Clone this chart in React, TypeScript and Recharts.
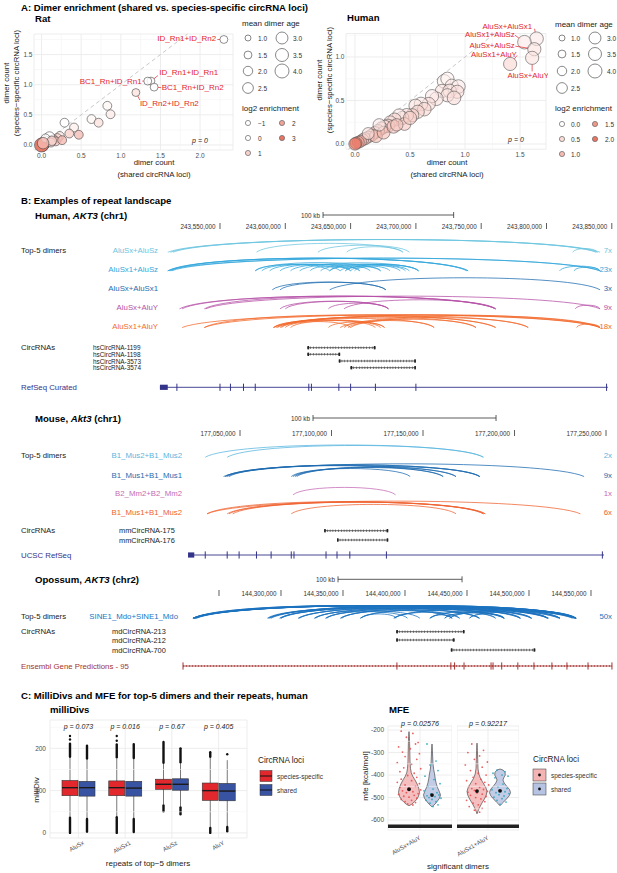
import React from 'react';
import { ScatterChart, Scatter, XAxis, YAxis, CartesianGrid, ReferenceLine, ReferenceArea, ComposedChart, Bar } from 'recharts';

const FONT = '"Liberation Sans", Arial, Helvetica, sans-serif';

/* ================= Panel A data ================= */
const ratNames = ['ID_Rn1+ID_Rn2', 'ID_Rn1+ID_Rn1', 'BC1_Rn+ID_Rn1', 'BC1_Rn+ID_Rn2', 'ID_Rn2+ID_Rn2'];
const ratShared = [2.30, 1.38, 1.34, 1.42, 1.19,
  0.83, 0.87, 0.63, 0.72, 0.29, 0.41, 0.35, 0.47, 0.23, 0.20,
  0.15, 0.10, 0.18, 0.08, 0.06, 0.04, 0.03, 0.02, 0.01, 0.00,
  0.05, 0.12, 0.26, 0.13, 0.02];
const ratSpecific = [1.75, 1.06, 1.06, 0.96, 0.87,
  0.65, 0.51, 0.43, 0.37, 0.37, 0.29, 0.19, 0.17, 0.15, 0.11,
  0.09, 0.13, 0.06, 0.06, 0.03, 0.07, 0.02, 0.01, 0.00, 0.00,
  0.11, 0.04, 0.08, 0.07, 0.03];
const ratAge = [1.5, 1.5, 1.5, 1.5, 1.5,
  1.8, 1.8, 1.8, 1.8, 1.8, 1.8, 1.8, 1.8, 1.8, 2.0,
  2.0, 2.5, 1.8, 2.2, 2.0, 2.2, 2.5, 3.0, 3.5, 4.0,
  1.8, 1.8, 1.8, 2.0, 2.8];
const ratLog2 = [0, 0, 0, 0, 0.6,
  0.2, 0.4, 0.2, 0.6, 0, 0.3, 1, 1.4, 0.5, 1,
  1.5, -0.3, 1.2, 0, 0.4, 0.8, 1, 2, 2.5, 3,
  -0.8, 0.8, 1.5, 1, 1.5];

const humanNames = ['AluSx+AluSx1', 'AluSx1+AluSz', 'AluSx+AluSz', 'AluSx1+AluY', 'AluSx+AluY'];
const humanShared = [1.65, 1.54, 1.63, 1.41, 1.61,
  0.81, 0.84, 0.88, 0.94, 0.79, 0.86, 0.93, 0.84, 0.90, 0.74,
  0.70, 0.67, 0.60, 0.55, 0.63, 0.57, 0.52, 0.47, 0.43, 0.40,
  0.36, 0.32, 0.30, 0.27, 0.24, 0.21, 0.18, 0.15, 0.12, 0.09,
  0.07, 0.05, 0.03, 0.01, 0.00, 0.19, 0.26, 0.35, 0.45, 0.50,
  0.38, 0.12, 0.22];
const humanSpecific = [1.21, 1.17, 1.09, 0.92, 0.99,
  0.72, 0.75, 0.67, 0.66, 0.61, 0.61, 0.60, 0.56, 0.53, 0.52,
  0.55, 0.46, 0.46, 0.44, 0.40, 0.37, 0.33, 0.33, 0.30, 0.33,
  0.28, 0.25, 0.21, 0.20, 0.18, 0.15, 0.13, 0.10, 0.08, 0.06,
  0.05, 0.03, 0.02, 0.01, 0.00, 0.09, 0.13, 0.20, 0.23, 0.30,
  0.22, 0.12, 0.22];
const humanAge = [3.8, 3.8, 3.6, 3.6, 3.6,
  3.8, 3.6, 3.6, 3.8, 3.6, 3.8, 3.6, 3.6, 3.8, 3.8,
  3.6, 3.6, 3.8, 3.6, 3.8, 3.6, 3.6, 3.8, 3.6, 3.4,
  3.6, 3.4, 3.6, 3.4, 3.4, 3.4, 3.2, 3.2, 3.0, 3.2,
  3.0, 3.0, 3.0, 3.0, 3.2, 3.4, 3.4, 3.6, 3.4, 3.6,
  3.2, 3.0, 3.2];
const humanLog2 = [0.3, 0.3, 0.4, 0.6, 0.4,
  0.2, 0.2, 0.3, 0.3, 0.4, 0.4, 0.5, 0.4, 0.5, 0.4,
  0.3, 0.5, 0.3, 0.4, 0.6, 0.6, 0.7, 0.5, 0.6, 0.3,
  0.6, 0.5, 0.7, 0.6, 0.7, 0.8, 0.9, 0.8, 1.0, 0.9,
  1.1, 1.2, 1.4, 1.8, 2.1, 1.0, 1.0, 0.9, 0.8, 0.7,
  0.8, 0.4, 0.3];

const ratAgeLegend = [1.0, 1.5, 2.0, 2.5, 3.0, 3.5, 4.0];
const ratLog2Legend = [-1, 0, 1, 2, 3];
const humanLog2Legend = [0.0, 0.5, 1.0, 1.5, 2.0];

/* ================= Panel B data (genomic positions in kb) ================= */
const humanTicks = [243550, 243600, 243650, 243700, 243750, 243800, 243850];
const humanTickLabels = ['243,550,000', '243,600,000', '243,650,000', '243,700,000', '243,750,000', '243,800,000', '243,850,000'];
const humanDimers = ['AluSx+AluSz', 'AluSx1+AluSz', 'AluSx+AluSx1', 'AluSx+AluY', 'AluSx1+AluY'];
const humanCounts = ['7x', '23x', '3x', '9x', '18x'];
const humanArcs = [
  [[243510, 243839], [243512, 243841], [243514, 243838], [243578, 243690], [243625, 243695], [243647, 243690], [243820, 243839]],
  [[243510, 243740], [243511, 243740], [243512, 243739], [243510, 243841], [243513, 243841],
    [243577, 243634], [243582, 243642], [243588, 243650], [243596, 243657], [243577, 243673], [243611, 243702],
    [243627, 243688], [243634, 243695], [243642, 243702], [243646, 243680], [243650, 243673], [243634, 243657],
    [243619, 243650], [243604, 243665], [243646, 243702], [243653, 243692], [243821, 243841], [243810, 243841]],
  [[243590, 243677], [243596, 243677], [243634, 243841]],
  [[243519, 243761], [243521, 243761], [243538, 243761], [243596, 243679], [243600, 243679], [243633, 243679],
    [243645, 243761], [243539, 243841], [243822, 243841]],
  [[243521, 243841], [243538, 243761], [243591, 243841], [243593, 243786], [243594, 243746], [243596, 243714],
    [243597, 243676], [243591, 243669], [243600, 243650], [243633, 243676], [243645, 243714], [243648, 243786],
    [243650, 243746], [243642, 243841], [243823, 243841], [243538, 243841], [243591, 243761], [243604, 243673]],
];
const humanCircNames = ['hsCircRNA-1199', 'hsCircRNA-1198', 'hsCircRNA-3573', 'hsCircRNA-3574'];
const humanCircSpans = [[243617, 243669], [243617, 243642], [243641, 243700], [243650, 243700]];
const humanGene = [243504, 243847];
const humanFirstExon = [243504, 243510];
const humanExons = [243517, 243550, 243558, 243568, 243577, 243618, 243620, 243641, 243650, 243669, 243700, 243846];

const mouseTicks = [177050, 177100, 177150, 177200, 177250];
const mouseTickLabels = ['177,050,000', '177,100,000', '177,150,000', '177,200,000', '177,250,000'];
const mouseDimers = ['B1_Mus2+B1_Mus2', 'B1_Mus1+B1_Mus1', 'B2_Mm2+B2_Mm2', 'B1_Mus1+B1_Mus2'];
const mouseCounts = ['2x', '9x', '1x', '6x'];
const mouseArcs = [
  [[177031, 177183], [177043, 177183]],
  [[177041, 177238], [177042, 177168], [177042, 177161], [177043, 177181], [177044, 177181],
    [177078, 177143], [177079, 177161], [177080, 177181], [177081, 177168]],
  [[177079, 177135]],
  [[177032, 177184], [177043, 177183], [177046, 177184], [177078, 177168], [177032, 177236], [177044, 177183]],
];
const mouseCircNames = ['mmCircRNA-175', 'mmCircRNA-176'];
const mouseCircSpans = [[177096, 177131], [177103, 177131]];
const mouseGene = [177021.6, 177248.9];
const mouseFirstExon = [177021.6, 177025];
const mouseExons = [177031, 177043, 177049.5, 177059, 177067, 177078, 177079.5, 177097, 177103, 177110, 177130, 177248];

const opoTicks = [144250, 144300, 144350, 144400, 144450, 144500, 144550];
const opoTickLabels = ['', '144,300,000', '144,350,000', '144,400,000', '144,450,000', '144,500,000', '144,550,000'];
const opoDimers = ['SINE1_Mdo+SINE1_Mdo'];
const opoCounts = ['50x'];
const opoArcs = [[
  [144229, 144538], [144230, 144538], [144231, 144537], [144229, 144536], [144232, 144538], [144230, 144535],
  [144229, 144525], [144231, 144524], [144230, 144515], [144229, 144516], [144230, 144502], [144231, 144493],
  [144229, 144480], [144230, 144460],
  [144290, 144538], [144290, 144515], [144291, 144480], [144289, 144444], [144292, 144537],
  [144299, 144525], [144299, 144493], [144300, 144438],
  [144314, 144538], [144314, 144502], [144315, 144460],
  [144327, 144515], [144327, 144473], [144328, 144412],
  [144336, 144538], [144336, 144480], [144337, 144402],
  [144348, 144525], [144348, 144493], [144349, 144438],
  [144364, 144502], [144364, 144460], [144365, 144393],
  [144391, 144538], [144391, 144515], [144392, 144444],
  [144420, 144525], [144420, 144480], [144421, 144438],
  [144432, 144502], [144432, 144473],
  [144436, 144538], [144436, 144493],
  [144452, 144515], [144452, 144480], [144300, 144537],
]];
const opoCircNames = ['mdCircRNA-213', 'mdCircRNA-212', 'mdCircRNA-700'];
const opoCircSpans = [[144393, 144448], [144393, 144440], [144437, 144505]];
const opoGene = [144221, 144567];
const opoExons = [144221, 144393.5, 144437, 144440, 144447.6, 144469.4, 144471, 144478, 144491, 144504, 144518.5, 144530.6, 144547.6, 144566.9];

/* ================= Panel C data ================= */
const boxRepeats = ['AluSx', 'AluSx1', 'AluSz', 'AluY'];
const specQ1 = [88, 88, 103, 77];
const specMed = [107, 107, 115, 100];
const specQ3 = [124, 123, 127, 118];
const specW1 = [38, 39, 67, 14];
const specW2 = [177, 176, 163, 178];
const specLowOut = [[0, 36], [0, 37], [51, 65], [0, 12]];
const specHighOut = [[180, 211], [179, 209], [166, 215], [180, 191]];
const specSparseOut = [[221, 229], [218, 229], [], []];
const sharedQ1 = [87, 87, 101, 76];
const sharedMed = [107, 106, 115, 99];
const sharedQ3 = [122, 122, 128, 117];
const sharedW1 = [35, 35, 62, 16];
const sharedW2 = [174, 175, 165, 172];
const sharedLowOut = [[3, 33], [2, 33], [44, 60], [4, 14]];
const sharedHighOut = [[176, 206], [177, 210], [167, 200], []];
const sharedSparseOut = [[], [], [], [186]];
const boxPValues = ['p = 0.073', 'p = 0.016', 'p = 0.67', 'p = 0.405'];

const mfeDimers = ['AluSx+AluY', 'AluSx1+AluY'];
const mfePValues = ['p = 0.02576', 'p = 0.92217'];
const specViolin = [
  [[-207, 0], [-230, 0.04], [-260, 0.06], [-300, 0.08], [-340, 0.1], [-370, 0.14], [-390, 0.22], [-405, 0.35], [-420, 0.55], [-440, 0.78], [-460, 0.94], [-478, 1], [-495, 0.9], [-510, 0.7], [-522, 0.45], [-530, 0.25], [-536, 0]],
  [[-258, 0], [-290, 0.04], [-330, 0.07], [-370, 0.1], [-395, 0.18], [-415, 0.35], [-435, 0.62], [-455, 0.88], [-472, 1], [-490, 0.92], [-508, 0.72], [-525, 0.48], [-545, 0.25], [-560, 0.1], [-572, 0]],
];
const sharedViolin = [
  [[-262, 0], [-290, 0.05], [-320, 0.08], [-350, 0.12], [-375, 0.2], [-395, 0.3], [-415, 0.38], [-435, 0.48], [-455, 0.65], [-472, 0.85], [-488, 1], [-502, 0.9], [-515, 0.65], [-528, 0.38], [-536, 0.15], [-541, 0]],
  [[-373, 0], [-378, 0.3], [-388, 0.48], [-400, 0.5], [-410, 0.38], [-422, 0.28], [-435, 0.4], [-450, 0.65], [-465, 0.92], [-478, 1], [-492, 0.88], [-506, 0.62], [-520, 0.34], [-530, 0.12], [-536, 0]],
];
const specPoints = [
  [[-0.6, -205], [0.3, -215], [-0.2, -232], [0.7, -255], [0.5, -262], [-0.8, -275], [0.1, -283], [-0.5, -298], [0.8, -305], [-0.3, -318], [0.6, -330], [-0.9, -345], [0.2, -352], [-0.4, -368], [0.9, -372], [-0.7, -385], [0.4, -392], [-0.1, -402], [0.6, -410], [-0.6, -418], [0.2, -425], [-0.9, -432], [0.8, -438], [-0.3, -444], [0.5, -450], [-0.7, -455], [0.1, -460], [0.9, -466], [-0.5, -470], [0.3, -474], [-0.2, -478], [0.7, -482], [-0.8, -486], [0.4, -490], [-0.4, -494], [0.0, -498], [0.6, -503], [-0.6, -508], [0.2, -512], [-0.3, -518], [0.5, -522], [-0.1, -528], [0.3, -533]],
  [[-0.4, -262], [0.5, -290], [-0.7, -300], [0.2, -315], [-0.2, -330], [0.8, -342], [-0.9, -355], [0.4, -365], [-0.5, -380], [0.1, -392], [0.7, -400], [-0.3, -410], [0.3, -418], [-0.8, -425], [0.6, -432], [-0.1, -438], [0.9, -444], [-0.6, -450], [0.2, -455], [-0.4, -460], [0.5, -464], [-0.2, -468], [0.8, -472], [-0.7, -476], [0.0, -480], [0.4, -485], [-0.5, -490], [0.7, -495], [-0.1, -500], [0.3, -506], [-0.8, -512], [0.6, -518], [-0.3, -525], [0.1, -532], [-0.6, -540], [0.4, -548], [-0.2, -556], [0.2, -565]],
];
const sharedPoints = [
  [[-0.5, -262], [0.4, -338], [-0.2, -355], [0.6, -380], [-0.7, -405], [0.2, -420], [0.8, -438], [-0.4, -450], [0.1, -462], [-0.8, -470], [0.5, -478], [-0.1, -484], [0.7, -488], [-0.5, -492], [0.3, -496], [-0.3, -500], [0.9, -503], [0.0, -508], [-0.6, -512], [0.4, -518], [-0.2, -525], [0.6, -532], [0.1, -540]],
  [[-0.3, -378], [0.5, -385], [-0.7, -392], [0.2, -400], [0.8, -405], [-0.5, -412], [0.3, -440], [-0.2, -452], [0.7, -460], [-0.8, -465], [0.1, -470], [0.5, -474], [-0.4, -478], [0.9, -482], [-0.1, -487], [0.4, -493], [-0.6, -498], [0.2, -505], [-0.3, -512], [0.6, -520], [0.0, -530]],
];
const specMean = [-463, -471];
const sharedMean = [-489, -470];

/* ================= helpers ================= */
const RED = '#e3282d';
const BLUE = '#3953a3';
const LABEL_RED = '#e3262c';

const ageRadius = (a: number) => Math.sqrt((28 + (a - 1) * 42) / Math.PI);
const enrichColor = (v: number, max: number) => {
  const t = Math.max(0, Math.min(1, v / max));
  const c0 = [255, 255, 255];
  const c1 = [234, 116, 98];
  const c = c0.map((s, k) => Math.round(s + (c1[k] - s) * t));
  return `rgb(${c[0]},${c[1]},${c[2]})`;
};

const ratPoints = ratShared.map((x, i) => ({ x, y: ratSpecific[i], age: ratAge[i], log2: ratLog2[i], name: ratNames[i] || '', li: i }));
const humanPoints = humanShared.map((x, i) => ({ x, y: humanSpecific[i], age: humanAge[i], log2: humanLog2[i], name: humanNames[i] || '', li: i }));

// label placement (pixel offsets relative to the point)
const ratLabelLayout = [
  { dx: -7.7, dy: -1, a: 'end', lx: -6.5, ly: 0 },
  { dx: 8.4, dy: -8.4, a: 'start', lx: 7, ly: -5.5 },
  { dx: -6, dy: 0, a: 'end', lx: -5.5, ly: 0 },
  { dx: 7.6, dy: 0.6, a: 'start', lx: 7, ly: 0.5 },
  { dx: 4, dy: 10.8, a: 'start', lx: 4, ly: 7.5 },
];
const humanLabelLayout = [
  { dx: -4.5, dy: -12.7, a: 'end', lx: -2, ly: -10 },
  { dx: -9.7, dy: -7.2, a: 'end', lx: -9.5, ly: -7 },
  { dx: -19.6, dy: -3.2, a: 'end', lx: -19, ly: -3 },
  { dx: 6.7, dy: -9.1, a: 'end', lx: 7, ly: -8.5 },
  { dx: -4, dy: 18, a: 'middle', lx: 0, ly: 13.5 },
];

const pointShape = (maxLog2: number, stroke: string, fillOp: number) => (p: any) => {
  const d = p.payload;
  return <circle cx={p.cx} cy={p.cy} r={ageRadius(d.age)} fill={enrichColor(d.log2, maxLog2)} fillOpacity={fillOp} stroke={stroke} strokeWidth={0.7} strokeOpacity={0.85} />;
};
const labelShape = (layout: any[], fs: number) => (p: any) => {
  const d = p.payload;
  const L = layout[d.li];
  const r = ageRadius(d.age);
  const len = Math.hypot(L.lx, L.ly);
  const ex = p.cx + (L.lx / len) * r;
  const ey = p.cy + (L.ly / len) * r;
  return (
    <g>
      {len > r ? <line x1={p.cx + L.lx} y1={p.cy + L.ly} x2={ex} y2={ey} stroke={LABEL_RED} strokeWidth={0.7} /> : null}
      <text x={p.cx + L.dx} y={p.cy + L.dy} textAnchor={L.a} dominantBaseline="central" fontSize={fs} fill={LABEL_RED}>{d.name}</text>
    </g>
  );
};

function EnrichPlot(props: any) {
  const { left, width, margin, yWidth, xDomain, yDomain, xTicks, yTicks, xMinor, yMinor, points, layout, maxLog2, diag, stroke, fillOp, fs } = props;
  const labeled = points.filter((p: any) => p.name);
  const tickStyle = { fontSize: 6.5, fill: '#4d4d4d' };
  return (
    <div style={{ position: 'absolute', left, top: 0 }}>
      <ScatterChart width={width} height={190} margin={margin}>
        <CartesianGrid stroke="#ebebeb" strokeWidth={0.9} />
        {xMinor.map((v: number) => <ReferenceLine key={'xm' + v} x={v} stroke="#f4f4f4" strokeWidth={0.6} />)}
        {yMinor.map((v: number) => <ReferenceLine key={'ym' + v} y={v} stroke="#f4f4f4" strokeWidth={0.6} />)}
        <XAxis type="number" dataKey="x" domain={xDomain} ticks={xTicks} interval={0} axisLine={false} tickLine={false} tickSize={0} tickMargin={3} height={12} tick={tickStyle} tickFormatter={(v: number) => v.toFixed(1)} />
        <YAxis type="number" dataKey="y" domain={yDomain} ticks={yTicks} interval={0} axisLine={false} tickLine={false} tickSize={0} tickMargin={1.5} width={yWidth} tick={tickStyle} tickFormatter={(v: number) => v.toFixed(1)} />
        <ReferenceLine segment={[{ x: diag[0], y: diag[0] }, { x: diag[1], y: diag[1] }]} stroke="#c2c2c2" strokeWidth={0.9} strokeDasharray="4 3" ifOverflow="visible" />
        <Scatter data={points} isAnimationActive={false} shape={pointShape(maxLog2, stroke, fillOp)} />
        <Scatter data={labeled} isAnimationActive={false} shape={labelShape(layout, fs)} />
      </ScatterChart>
    </div>
  );
}

/* ---------- Panel B shapes ---------- */
const arcShape = (color: string) => (p: any) => {
  const { x, y, width, height } = p;
  const b = y + height;
  const h = Math.min(13, 13 * Math.sqrt(Math.max(width, 1) / 300));
  const k = 1.3 * h;
  return <path d={`M${x},${b} C${x + width * 0.1},${b - k} ${x + width * 0.9},${b - k} ${x + width},${b}`} fill="none" stroke={color} strokeWidth={0.9} strokeOpacity={0.85} />;
};
const circShape = (p: any) => {
  const { x, y, width, height } = p;
  const cy = y + height / 2;
  return (
    <g>
      <line x1={x} x2={x + width} y1={cy} y2={cy} stroke="#222" strokeWidth={0.7} />
      <line x1={x} x2={x + width} y1={cy} y2={cy} stroke="#444" strokeWidth={2.4} strokeDasharray="0.6 2.2" />
      <rect x={x} y={cy - 1.7} width={1.6} height={3.4} fill="#222" />
      <rect x={x + width - 1.6} y={cy - 1.7} width={1.6} height={3.4} fill="#222" />
    </g>
  );
};
const geneShape = (color: string, hatch: boolean) => (p: any) => {
  const { x, y, width, height } = p;
  const cy = y + height / 2;
  return (
    <g>
      <line x1={x} x2={x + width} y1={cy} y2={cy} stroke={color} strokeWidth={0.9} />
      {hatch ? <line x1={x} x2={x + width} y1={cy} y2={cy} stroke={color} strokeWidth={2.2} strokeDasharray="0.6 2.4" /> : null}
    </g>
  );
};
const exonShape = (color: string) => (p: any) => <line x1={p.cx} x2={p.cx} y1={p.cy - 3.6} y2={p.cy + 3.6} stroke={color} strokeWidth={1} />;
const tickShape = (p: any) => (
  <g>
    {p.payload.label ? <text x={p.cx - 4.5} y={p.cy} textAnchor="end" dominantBaseline="central" fontSize={6.3} fill="#333">{p.payload.label}</text> : null}
    <line x1={p.cx} x2={p.cx} y1={p.cy - 3} y2={p.cy + 3} stroke="#333" strokeWidth={0.8} />
  </g>
);
const scaleBarShape = (p: any) => {
  const { x, y, width, height } = p;
  const cy = y + height / 2;
  return (
    <g stroke="#333" strokeWidth={0.8}>
      <line x1={x} x2={x + width} y1={cy} y2={cy} />
      <line x1={x} x2={x} y1={cy - 3} y2={cy + 3} />
      <line x1={x + width} x2={x + width} y1={cy - 3} y2={cy + 3} />
    </g>
  );
};

function LocusChart(p: any) {
  const tickData = p.ticks.map((t: number, i: number) => ({ x: t, y: p.tickY, label: p.tickLabels[i] }));
  const exonData = p.exons.map((e: number) => ({ x: e, y: p.geneY }));
  return (
    <div style={{ position: 'absolute', left: 0, top: p.top }}>
      <ComposedChart width={617} height={p.height} margin={{ top: 0, right: 0, bottom: 0, left: 0 }}>
        <XAxis type="number" dataKey="x" domain={p.domain} hide allowDataOverflow />
        <YAxis type="number" dataKey="y" domain={[p.top, p.top + p.height]} reversed hide allowDataOverflow />
        <ReferenceArea x1={p.barStart} x2={p.barStart + 100} y1={p.barY - 1} y2={p.barY + 1} ifOverflow="visible" shape={scaleBarShape} />
        {p.arcs.map((row: number[][], r: number) =>
          row.map((a: number[], k: number) => (
            <ReferenceArea key={`a${r}-${k}`} x1={a[0]} x2={a[1]} y1={p.rowYs[r] - 1} y2={p.rowYs[r]} ifOverflow="visible" shape={arcShape(p.colors[r])} />
          ))
        )}
        {p.circSpans.map((s: number[], k: number) => (
          <ReferenceArea key={`c${k}`} x1={s[0]} x2={s[1]} y1={p.circYs[k] - 1.5} y2={p.circYs[k] + 1.5} ifOverflow="visible" shape={circShape} />
        ))}
        <ReferenceArea x1={p.gene[0]} x2={p.gene[1]} y1={p.geneY - 1.5} y2={p.geneY + 1.5} ifOverflow="visible" shape={geneShape(p.geneColor, p.hatch)} />
        {p.firstExon ? <ReferenceArea x1={p.firstExon[0]} x2={p.firstExon[1]} y1={p.geneY - 2.6} y2={p.geneY + 2.6} ifOverflow="visible" fill={p.geneColor} fillOpacity={1} stroke="none" /> : null}
        <Scatter data={exonData} isAnimationActive={false} shape={exonShape(p.geneColor)} />
        <Scatter data={tickData} isAnimationActive={false} shape={tickShape} />
      </ComposedChart>
    </div>
  );
}

/* ---------- Panel C: boxplot ---------- */
const buildBox = (i: number, q1: number[], med: number[], q3: number[], w1: number[], w2: number[], low: number[][], high: number[][], sparse: number[][]) => {
  const vals = [w1[i], w2[i], ...low[i], ...high[i], ...sparse[i]];
  return { q1: q1[i], med: med[i], q3: q3[i], w1: w1[i], w2: w2[i], low: low[i], high: high[i], sparse: sparse[i], range: [Math.min(...vals), Math.max(...vals)] };
};
const boxRows = boxRepeats.map((r, i) => {
  const sp = buildBox(i, specQ1, specMed, specQ3, specW1, specW2, specLowOut, specHighOut, specSparseOut);
  const sh = buildBox(i, sharedQ1, sharedMed, sharedQ3, sharedW1, sharedW2, sharedLowOut, sharedHighOut, sharedSparseOut);
  return { repeat: r, specRange: sp.range, sharedRange: sh.range, specStats: sp, sharedStats: sh };
});
const boxShape = (key: string, fill: string) => (p: any) => {
  const s = p.payload[key];
  const { x, y, width, height } = p;
  const lo = s.range[0];
  const hi = s.range[1];
  const py = (v: number) => y + (height * (hi - v)) / (hi - lo);
  const cx = x + width / 2;
  return (
    <g>
      <line x1={cx} x2={cx} y1={py(s.w2)} y2={py(s.w1)} stroke="#555" strokeWidth={0.8} />
      {s.low.length ? <line x1={cx} x2={cx} y1={py(s.low[0])} y2={py(s.low[1])} stroke="#111" strokeWidth={2.4} strokeLinecap="round" /> : null}
      {s.high.length ? <line x1={cx} x2={cx} y1={py(s.high[0])} y2={py(s.high[1])} stroke="#111" strokeWidth={2.4} strokeLinecap="round" /> : null}
      {s.sparse.map((v: number, k: number) => <circle key={k} cx={cx} cy={py(v)} r={1.2} fill="#111" />)}
      <rect x={x} y={py(s.q3)} width={width} height={py(s.q1) - py(s.q3)} fill={fill} stroke="#333" strokeWidth={0.6} />
      <line x1={x} x2={x + width} y1={py(s.med)} y2={py(s.med)} stroke="#1a1a1a" strokeWidth={1.4} />
    </g>
  );
};
const boxTick = (p: any) => (
  <text x={p.x + 6} y={p.y + 6} transform={`rotate(-30 ${p.x + 6} ${p.y + 6})`} textAnchor="end" fontSize={6} fill="#4d4d4d">{p.payload.value}</text>
);

function BoxPlot() {
  const tickStyle = { fontSize: 6.5, fill: '#4d4d4d' };
  return (
    <div style={{ position: 'absolute', left: 0, top: 700 }}>
      <ComposedChart width={250} height={168} data={boxRows} margin={{ top: 20, right: 3, bottom: 0, left: 0 }} barGap={1}>
        <CartesianGrid stroke="#ebebeb" strokeWidth={0.9} />
        {[50, 150, 250].map((v) => <ReferenceLine key={v} y={v} stroke="#f4f4f4" strokeWidth={0.6} />)}
        <XAxis dataKey="repeat" type="category" height={30} padding={{ left: 5, right: 5 }} axisLine={false} tickLine={false} tickSize={0} tickMargin={0} interval={0} tick={boxTick} />
        <YAxis type="number" domain={[-12, 267]} ticks={[0, 100, 200]} interval={0} width={50} allowDataOverflow axisLine={false} tickLine={false} tickSize={0} tickMargin={4} tick={tickStyle} />
        <Bar dataKey="specRange" barSize={16} isAnimationActive={false} shape={boxShape('specStats', RED)} />
        <Bar dataKey="sharedRange" barSize={16} isAnimationActive={false} shape={boxShape('sharedStats', BLUE)} />
      </ComposedChart>
    </div>
  );
}

/* ---------- Panel C: violins ---------- */
const rangeOf = (profile: number[][], pts: number[][]) => {
  const vals = profile.map((q) => q[0]).concat(pts.map((q) => q[1]));
  return [Math.min(...vals), Math.max(...vals)];
};
const mfeRows = mfeDimers.map((d, i) => ({
  dimer: d,
  specRange: rangeOf(specViolin[i], specPoints[i]),
  sharedRange: rangeOf(sharedViolin[i], sharedPoints[i]),
}));
const violinShape = (profile: number[][], pts: number[][], mean: number, half: number, fill: string, ptColor: string, jit: number) => (p: any) => {
  const { x, y, width, height } = p;
  const [lo, hi] = rangeOf(profile, pts);
  const py = (v: number) => y + (height * (hi - v)) / (hi - lo);
  const cx = x + width / 2;
  const right = profile.map((q) => `${cx + q[1] * half},${py(q[0])}`);
  const left = profile.slice().reverse().map((q) => `${cx - q[1] * half},${py(q[0])}`);
  const d = 'M' + right.concat(left).join(' L') + ' Z';
  return (
    <g>
      <path d={d} fill={fill} fillOpacity={0.85} stroke="#333" strokeWidth={0.6} strokeLinejoin="round" />
      {pts.map((q, k) => <circle key={k} cx={cx + q[0] * jit} cy={py(q[1])} r={0.9} fill={ptColor} fillOpacity={0.85} />)}
      <circle cx={cx} cy={py(mean)} r={1.9} fill="#111" />
    </g>
  );
};
const mfeTick = (p: any) => (
  <text x={p.x + 1} y={p.y + 9} transform={`rotate(-30 ${p.x + 1} ${p.y + 9})`} textAnchor="end" fontSize={6} fill="#4d4d4d">{p.payload.value}</text>
);
const violinHalf = [[10.5, 8.5], [10, 10.5]];

function MfeFacet({ i, left, width, showY }: any) {
  const tickStyle = { fontSize: 6.5, fill: '#4d4d4d' };
  return (
    <div style={{ position: 'absolute', left, top: 700 }}>
      <ComposedChart width={width} height={160} data={[mfeRows[i]]} margin={{ top: 26, right: 0, bottom: 0, left: 0 }} barGap={1}>
        <CartesianGrid stroke="#ebebeb" strokeWidth={0.9} />
        {[-250, -350, -450, -550].map((v) => <ReferenceLine key={v} y={v} stroke="#f4f4f4" strokeWidth={0.6} />)}
        <XAxis dataKey="dimer" type="category" height={30} axisLine={false} tickLine={false} tickSize={0} tickMargin={0} interval={0} tick={mfeTick} />
        <YAxis type="number" hide={!showY} width={30} domain={[-644, -182]} ticks={[-600, -500, -400, -300, -200]} interval={0} allowDataOverflow axisLine={false} tickLine={false} tickSize={0} tickMargin={4} tick={tickStyle} />
        <Bar dataKey="specRange" barSize={22} isAnimationActive={false} shape={violinShape(specViolin[i], specPoints[i], specMean[i], violinHalf[i][0], '#f4b4b4', '#e8474a', 13)} />
        <Bar dataKey="sharedRange" barSize={22} isAnimationActive={false} shape={violinShape(sharedViolin[i], sharedPoints[i], sharedMean[i], violinHalf[i][1], '#b7c3e2', '#1fa5b8', 10)} />
      </ComposedChart>
    </div>
  );
}

/* ---------- overlay text ---------- */
const Tx = ({ x, y, s = 8, c = '#000', a = 'start', b = false, i = false, r = 0, children }: any) => (
  <text x={x} y={y} fontSize={s} fill={c} textAnchor={a} dominantBaseline="central" fontWeight={b ? 'bold' : 'normal'} fontStyle={i ? 'italic' : 'normal'} transform={r ? `rotate(${r} ${x} ${y})` : undefined}>{children}</text>
);

const humanColors = ['#6cc5df', '#33a7dc', '#1f6db0', '#b552a7', '#f26b2e'];
const mouseColors = ['#58b6e0', '#1d6bb0', '#c46bb5', '#ef6331'];
const opoColors = ['#1b73bf'];
const GENE_BLUE = '#33338a';
const GENE_RED = '#a3332f';

const humanLabelYs = [250.7, 269.3, 288.3, 307.3, 326];
const mouseLabelYs = [455.7, 475, 493.3, 512.3];
const opoLabelYs = [616.7];
const humanCircYs = [347.7, 354.3, 361, 367.7];
const mouseCircYs = [530.7, 540];
const opoCircYs = [631.7, 640, 650];

function Overlay() {
  const ageCol = (ages: number[], cx: number, lx: number, ys: number[]) =>
    ages.map((a, k) => (
      <g key={a}>
        <circle cx={cx} cy={ys[k]} r={ageRadius(a)} fill="none" stroke="#555" strokeWidth={0.7} />
        <Tx x={lx} y={ys[k]} s={6.5} c="#333">{a.toFixed(1)}</Tx>
      </g>
    ));
  const logKey = (v: number, cx: number, cy: number, lx: number, max: number, label: string) => (
    <g key={label}>
      <circle cx={cx} cy={cy} r={2.6} fill={enrichColor(v, max)} stroke="#666" strokeWidth={0.7} />
      <Tx x={lx} y={cy} s={6.5} c="#333">{label}</Tx>
    </g>
  );
  const rowLabels = (names: string[], counts: string[], ys: number[], colors: string[], right: number) =>
    names.map((n, k) => (
      <g key={n}>
        <Tx x={right} y={ys[k]} s={7.8} c={colors[k]} a="end">{n}</Tx>
        <Tx x={612} y={ys[k]} s={7.8} c={colors[k]} a="end">{counts[k]}</Tx>
      </g>
    ));
  const circLabels = (names: string[], ys: number[], x: number, s: number) =>
    names.map((n, k) => <Tx key={n} x={x} y={ys[k]} s={s} c="#222">{n}</Tx>);

  return (
    <svg width={617} height={873} style={{ position: 'absolute', left: 0, top: 0, pointerEvents: 'none', fontFamily: FONT }}>
      {/* Panel A */}
      <Tx x={21} y={7} s={9.6} b>A: Dimer enrichment (shared vs. species-specific circRNA loci)</Tx>
      <Tx x={35} y={18} s={9.6} b>Rat</Tx>
      <Tx x={347} y={17} s={9.6} b>Human</Tx>
      <Tx x={6} y={83} s={7.8} a="middle" r={-90} c="#222">dimer count</Tx>
      <Tx x={16} y={83} s={7.8} a="middle" r={-90} c="#222">(species−specific circRNA loci)</Tx>
      <Tx x={154} y={162} s={7.8} a="middle" c="#222">dimer count</Tx>
      <Tx x={154} y={174} s={7.8} a="middle" c="#222">(shared circRNA loci)</Tx>
      <Tx x={319} y={80} s={7.8} a="middle" r={-90} c="#222">dimer count</Tx>
      <Tx x={329} y={80} s={7.8} a="middle" r={-90} c="#222">(species−specific circRNA loci)</Tx>
      <Tx x={447} y={162} s={7.8} a="middle" c="#222">dimer count</Tx>
      <Tx x={447} y={174} s={7.8} a="middle" c="#222">(shared circRNA loci)</Tx>
      <Tx x={200} y={140} s={7} a="middle" i c="#222">p = 0</Tx>
      <Tx x={516} y={139} s={7} a="middle" i c="#222">p = 0</Tx>

      <Tx x={242} y={23} s={8} c="#222">mean dimer age</Tx>
      {ageCol(ratAgeLegend.slice(0, 4), 248, 258, [38, 55, 71, 88])}
      {ageCol(ratAgeLegend.slice(4), 282, 293, [38, 55, 71])}
      <Tx x={242} y={108} s={8} c="#222">log2 enrichment</Tx>
      {logKey(ratLog2Legend[0], 248, 123, 258, 3, '−1')}
      {logKey(ratLog2Legend[1], 248, 138, 258, 3, '0')}
      {logKey(ratLog2Legend[2], 248, 153, 258, 3, '1')}
      {logKey(ratLog2Legend[3], 282, 123, 292, 3, '2')}
      {logKey(ratLog2Legend[4], 282, 138, 292, 3, '3')}

      <Tx x={555} y={24} s={8} c="#222">mean dimer age</Tx>
      {ageCol(ratAgeLegend.slice(0, 4), 562, 571, [38, 54, 71, 88])}
      {ageCol(ratAgeLegend.slice(4), 595, 607, [38, 54, 71])}
      <Tx x={555} y={108} s={8} c="#222">log2 enrichment</Tx>
      {logKey(humanLog2Legend[0], 562, 124, 571, 2, '0.0')}
      {logKey(humanLog2Legend[1], 562, 139, 571, 2, '0.5')}
      {logKey(humanLog2Legend[2], 562, 154, 571, 2, '1.0')}
      {logKey(humanLog2Legend[3], 595, 124, 605, 2, '1.5')}
      {logKey(humanLog2Legend[4], 595, 139, 605, 2, '2.0')}

      {/* Panel B */}
      <Tx x={21} y={200} s={9.6} b>B: Examples of repeat landscape</Tx>
      <Tx x={35} y={215} s={9.6} b>Human, <tspan fontStyle="italic">AKT3</tspan> (chr1)</Tx>
      <Tx x={320} y={215} s={6.3} a="end" c="#333">100 kb</Tx>
      <Tx x={21} y={250.7} s={7.8} c="#222">Top-5 dimers</Tx>
      {rowLabels(humanDimers, humanCounts, humanLabelYs, humanColors, 158)}
      <Tx x={21} y={347.7} s={7.8} c="#222">CircRNAs</Tx>
      {circLabels(humanCircNames, humanCircYs, 93, 6.4)}
      <Tx x={21} y={387.3} s={7.8} c={GENE_BLUE}>RefSeq Curated</Tx>

      <Tx x={35} y={418} s={9.6} b>Mouse, <tspan fontStyle="italic">Akt3</tspan> (chr1)</Tx>
      <Tx x={310} y={418} s={6.3} a="end" c="#333">100 kb</Tx>
      <Tx x={21} y={455.7} s={7.8} c="#222">Top-5 dimers</Tx>
      {rowLabels(mouseDimers, mouseCounts, mouseLabelYs, mouseColors, 182)}
      <Tx x={21} y={530.7} s={7.8} c="#222">CircRNAs</Tx>
      {circLabels(mouseCircNames, mouseCircYs, 119, 7.4)}
      <Tx x={21} y={555} s={7.8} c={GENE_BLUE}>UCSC RefSeq</Tx>

      <Tx x={35} y={579.3} s={9.6} b>Opossum, <tspan fontStyle="italic">AKT3</tspan> (chr2)</Tx>
      <Tx x={335} y={579.3} s={6.3} a="end" c="#333">100 kb</Tx>
      <Tx x={21} y={616.7} s={7.8} c="#222">Top-5 dimers</Tx>
      {rowLabels(opoDimers, opoCounts, opoLabelYs, opoColors, 178)}
      <Tx x={21} y={631.7} s={7.8} c="#222">CircRNAs</Tx>
      {circLabels(opoCircNames, opoCircYs, 112, 7.4)}
      <Tx x={21} y={666} s={7.8} c={GENE_RED}>Ensembl Gene Predictions - 95</Tx>

      {/* Panel C */}
      <Tx x={21} y={695} s={9.6} b>C: MilliDivs and MFE for top-5 dimers and their repeats, human</Tx>
      <Tx x={50} y={709} s={9.6} b>milliDivs</Tx>
      <Tx x={389} y={709} s={9.6} b>MFE</Tx>
      {boxPValues.map((t, k) => <Tx key={t} x={[78.4, 125.1, 171.9, 218.6][k]} y={726} s={7} a="middle" i c="#222">{t}</Tx>)}
      <Tx x={36} y={790} s={8} a="middle" r={-90} c="#222">milliDiv</Tx>
      <Tx x={148} y={863} s={8} a="middle" c="#222">repeats of top−5 dimers</Tx>
      <Tx x={258} y={760} s={8.2} c="#222">CircRNA loci</Tx>
      <rect x={260} y={770.5} width={12} height={11} fill={RED} stroke="#333" strokeWidth={0.5} />
      <line x1={260} x2={272} y1={776} y2={776} stroke="#111" strokeWidth={1} />
      <rect x={260} y={784.5} width={12} height={11} fill={BLUE} stroke="#333" strokeWidth={0.5} />
      <line x1={260} x2={272} y1={790} y2={790} stroke="#111" strokeWidth={1} />
      <Tx x={277} y={776} s={6.5} c="#333">species-specific</Tx>
      <Tx x={277} y={790} s={6.5} c="#333">shared</Tx>

      {mfePValues.map((t, k) => <Tx key={t} x={[420, 488][k]} y={723.5} s={7.2} a="middle" i c="#222">{t}</Tx>)}
      <rect x={388} y={824.5} width={64} height={3.5} fill="#222" />
      <rect x={457} y={824.5} width={62} height={3.5} fill="#222" />
      <Tx x={365} y={776} s={8} a="middle" r={-90} c="#222">mfe [kcal/mol]</Tx>
      <Tx x={458} y={866} s={8} a="middle" c="#222">significant dimers</Tx>
      <Tx x={533} y={759} s={8.2} c="#222">CircRNA loci</Tx>
      <rect x={533} y={769} width={13} height={12} fill="#f4b4b4" stroke="#333" strokeWidth={0.5} />
      <circle cx={539.5} cy={775} r={1.4} fill="#111" />
      <rect x={533} y={783} width={13} height={12} fill="#b7c3e2" stroke="#333" strokeWidth={0.5} />
      <circle cx={539.5} cy={789} r={1.4} fill="#111" />
      <Tx x={551} y={775} s={6.5} c="#333">species-specific</Tx>
      <Tx x={551} y={789} s={6.5} c="#333">shared</Tx>
    </svg>
  );
}

export default function App() {
  return (
    <div style={{ position: 'absolute', left: 0, top: 0, width: 617, height: 873, background: '#fff', overflow: 'hidden', fontFamily: FONT }}>
      <EnrichPlot left={0} width={240} margin={{ top: 34, right: 7, bottom: 28, left: 0 }} yWidth={34}
        xDomain={[-0.095, 2.415]} yDomain={[-0.083, 1.841]} xTicks={[0, 0.5, 1, 1.5, 2]} yTicks={[0, 0.5, 1, 1.5]}
        xMinor={[0.25, 0.75, 1.25, 1.75, 2.25]} yMinor={[0.25, 0.75, 1.25, 1.75]} points={ratPoints} layout={ratLabelLayout}
        maxLog2={3} diag={[-0.083, 1.841]} stroke="#444" fillOp={0.8} fs={8} />
      <EnrichPlot left={308} width={240} margin={{ top: 33.5, right: 2, bottom: 28.8, left: 0 }} yWidth={38}
        xDomain={[-0.0818, 1.736]} yDomain={[-0.06, 1.27]} xTicks={[0, 0.5, 1, 1.5]} yTicks={[0, 0.5, 1]}
        xMinor={[0.25, 0.75, 1.25]} yMinor={[0.25, 0.75, 1.25]} points={humanPoints} layout={humanLabelLayout}
        maxLog2={2} diag={[-0.06, 1.27]} stroke="#555" fillOp={0.6} fs={7.8} />

      <LocusChart top={205} height={190} domain={[243381.55, 243853.98]}
        ticks={humanTicks} tickLabels={humanTickLabels} tickY={226} barStart={243628.9} barY={215}
        rowYs={humanLabelYs.map((v) => v + 1.5)} arcs={humanArcs} colors={humanColors}
        circSpans={humanCircSpans} circYs={humanCircYs} gene={humanGene} exons={humanExons} firstExon={humanFirstExon}
        geneY={387.3} geneColor={GENE_BLUE} hatch={false} />
      <LocusChart top={405} height={157} domain={[176918.85, 177256.0]}
        ticks={mouseTicks} tickLabels={mouseTickLabels} tickY={433} barStart={177089.9} barY={418}
        rowYs={mouseLabelYs.map((v) => v + 1.5)} arcs={mouseArcs} colors={mouseColors}
        circSpans={mouseCircSpans} circYs={mouseCircYs} gene={mouseGene} exons={mouseExons} firstExon={mouseFirstExon}
        geneY={555} geneColor={GENE_BLUE} hatch={false} />
      <LocusChart top={570} height={102} domain={[144073.4, 144570.97]}
        ticks={opoTicks} tickLabels={opoTickLabels} tickY={593} barStart={144346} barY={579.3}
        rowYs={opoLabelYs.map((v) => v + 1.5)} arcs={opoArcs} colors={opoColors}
        circSpans={opoCircSpans} circYs={opoCircYs} gene={opoGene} exons={opoExons} firstExon={null}
        geneY={666} geneColor={GENE_RED} hatch={true} />

      <BoxPlot />
      <MfeFacet i={0} left={358} width={94} showY={true} />
      <MfeFacet i={1} left={457} width={62} showY={false} />
      <Overlay />
    </div>
  );
}
